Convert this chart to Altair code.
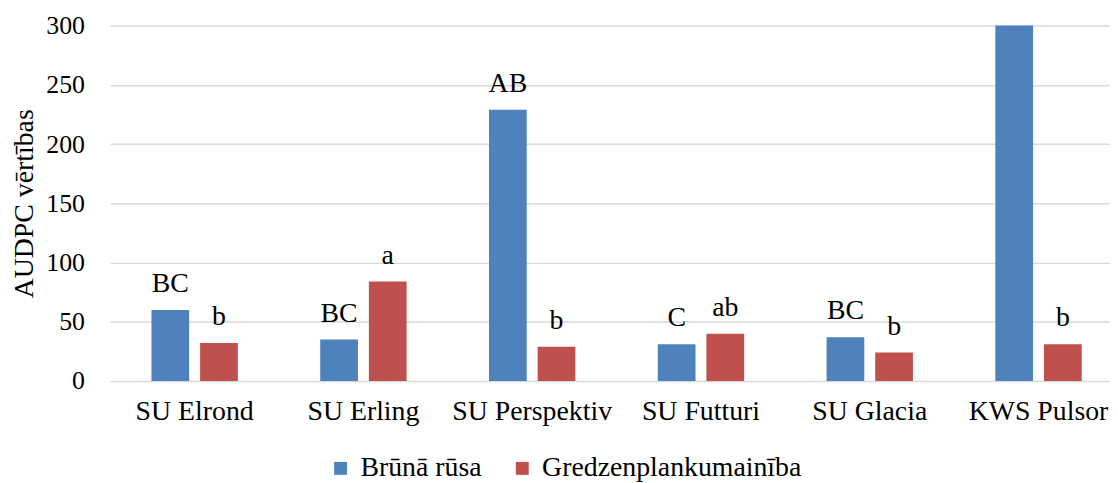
import altair as alt
import pandas as pd

categories = ["SU Elrond", "SU Erling", "SU Perspektiv", "SU Futturi", "SU Glacia", "KWS Pulsor"]
series_names = ["Brūnā rūsa", "Gredzenplankumainība"]
bruna_rusa = [60, 35, 229, 31, 37, 320]
gredzen = [32, 84, 29, 40, 24, 31]
bruna_labels = ["BC", "BC", "AB", "C", "BC", ""]
gredzen_labels = ["b", "a", "b", "ab", "b", "b"]
colors = ["#4F81BD", "#C0504D"]

rows = []
for i, c in enumerate(categories):
    rows.append({"cat": c, "series": series_names[0], "value": bruna_rusa[i], "label": bruna_labels[i]})
    rows.append({"cat": c, "series": series_names[1], "value": gredzen[i], "label": gredzen_labels[i]})
df = pd.DataFrame(rows)

FONT = "Liberation Serif"

x = alt.X("cat:N", sort=categories, title=None,
          scale=alt.Scale(range=[0, 1020], paddingInner=0, paddingOuter=0),
          axis=alt.Axis(labelFont=FONT, labelFontSize=28, labelColor="#000000", labelAngle=0,
                        labelPadding=17, ticks=False, domain=False, grid=False))
xo = alt.XOffset("series:N", sort=series_names,
                 scale=alt.Scale(paddingInner=0.2245, paddingOuter=0.847))
y = alt.Y("value:Q", title="AUDPC vērtības",
          scale=alt.Scale(domain=[0, 300], nice=False, zero=True),
          axis=alt.Axis(values=[0, 50, 100, 150, 200, 250, 300], labelFont=FONT, labelFontSize=26,
                        labelColor="#000000", labelPadding=26, ticks=False, domain=False,
                        gridColor="#d9d9d9", gridWidth=1.5, titleFont=FONT, titleFontSize=28,
                        titleFontWeight="normal", titleColor="#000000", titlePadding=7))

color = alt.Color("series:N", sort=series_names,
                  scale=alt.Scale(domain=series_names, range=colors),
                  legend=alt.Legend(title=None, orient="none", legendX=218, legendY=432,
                                    direction="horizontal", symbolType="square", symbolSize=169,
                                    symbolStrokeWidth=0, labelFont=FONT, labelFontSize=28,
                                    labelColor="#000000", columnPadding=26, labelOffset=6,
                                    labelLimit=400))

bars = alt.Chart(df).mark_bar(clip=True).encode(x=x, xOffset=xo, y=y, color=color)
texts = alt.Chart(df).mark_text(clip=True, font=FONT, fontSize=28, color="#000000",
                                baseline="alphabetic", dy=-18).encode(
    x=alt.X("cat:N", sort=categories), xOffset=alt.XOffset("series:N", sort=series_names),
    y="value:Q", text="label:N")

chart = alt.layer(bars, texts).properties(
    width=1007, height=358,
    autosize=alt.AutoSizeParams(type="none"),
    padding={"left": 103, "top": 16, "right": 0, "bottom": 101},
).configure_view(stroke=None)

chart.save("out.html", embed_options={"renderer": "svg", "actions": False})
